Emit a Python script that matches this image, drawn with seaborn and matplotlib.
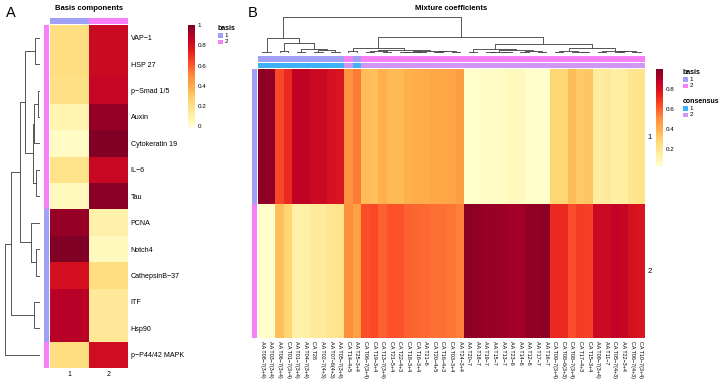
import numpy as np
import pandas as pd
import matplotlib
matplotlib.use("Agg")
import matplotlib.pyplot as plt
import seaborn as sns
from matplotlib.colors import ListedColormap
from matplotlib.patches import Rectangle

sns.set_theme(style="white")
plt.rcParams['font.family'] = ['Liberation Sans', 'DejaVu Sans']
plt.rcParams['text.color'] = 'black'
plt.rcParams['xtick.color'] = 'black'
plt.rcParams['ytick.color'] = 'black'

# ---------------- data: panel A (basis components) ----------------
markers = ["VAP−1", "HSP 27", "p−Smad 1/5", "Auxin", "Cytokeratin 19", "IL−6", "Tau",
           "PCNA", "Notch4", "CathepsinB−37", "ITF", "Hsp90", "p−P44/42 MAPK"]
basis_comp1 = [0.22, 0.22, 0.20, 0.08, 0.03, 0.19, 0.04, 0.95, 1.00, 0.80, 0.88, 0.88, 0.22]
basis_comp2 = [0.83, 0.83, 0.85, 0.95, 1.00, 0.84, 0.98, 0.10, 0.04, 0.22, 0.15, 0.15, 0.82]
marker_basis = [2, 2, 2, 2, 2, 2, 2, 1, 1, 1, 1, 1, 2]
# row dendrogram: (height, left, right), leaves = row index
tree_markers = (35, (29, (20, (15, (5.3, 0, 1), (7.5, (6, (2.5, 2, 3), 4), (4, 5, 6))),
                          (9.3, 7, (4.3, 8, 9))), (6, 10, 11)), 12)

# ---------------- data: panel B (mixture coefficients) ----------------
samples = ["AA T08−7(3+4)", "AA T03−7(3+4)", "AA T06−7(3+4)", "CA T01−7(3+4)", "AA T01−7(3+4)",
           "AA T04−7(3+4)", "CA T28", "AA T02−7(4+3)", "AA T07−6(4+3)", "AA T05−7(3+4)",
           "CA T14−4+5", "AA T25−3+4", "CA T06−7(3+4)", "CA T19−3+4", "CA T13−7(3+4)",
           "CA T21−5+4", "CA T22−4+3", "CA T18−3+4", "CA T16−3+4", "AA T21−6",
           "CA T20−4+5", "CA T16−4+3", "CA T03−3+4", "AA T24−3+4", "AA T20−7",
           "AA T18−7", "AA T19−7", "AA T15−7", "AA T13−7", "AA T23−6",
           "AA T14−6", "AA T12−6", "AA T17−7", "AA T16−7", "CA T09−7(3+4)",
           "CA T08−6(3+3)", "CA T08−7(3+4)", "CA T17−4+3", "CA T15−3+4", "AA T09−7(3+4)",
           "AA T11−7", "CA T05−7(4+3)", "AA T22−3+4", "CA T06−7(4+3)", "CA T10−7(3+4)"]
coef_row1 = [0.97, 0.96, 0.65, 0.72, 0.87, 0.87, 0.83, 0.83, 0.80, 0.79,
             0.49, 0.55, 0.36, 0.35, 0.40, 0.37, 0.37, 0.40, 0.41, 0.42,
             0.43, 0.43, 0.44, 0.46, 0.03, 0.04, 0.05, 0.05, 0.06, 0.07,
             0.07, 0.04, 0.04, 0.03, 0.28, 0.28, 0.36, 0.32, 0.33, 0.16,
             0.17, 0.14, 0.15, 0.20, 0.21]
coef_row2 = [0.03, 0.04, 0.35, 0.28, 0.13, 0.13, 0.17, 0.17, 0.20, 0.21,
             0.51, 0.45, 0.64, 0.65, 0.60, 0.63, 0.63, 0.60, 0.59, 0.58,
             0.57, 0.57, 0.56, 0.54, 0.97, 0.96, 0.95, 0.95, 0.94, 0.93,
             0.93, 0.96, 0.96, 0.97, 0.72, 0.72, 0.64, 0.68, 0.67, 0.84,
             0.83, 0.86, 0.85, 0.80, 0.79]
sample_basis = [1, 1, 1, 1, 1, 1, 1, 1, 1, 1, 2, 1] + [2] * 33
sample_consensus = [1, 1, 1, 1, 1, 1, 1, 1, 1, 1, 2, 1] + [2] * 33
coef_rows = ["1", "2"]
tree_samples = (1.0,
                (0.43, (0.03, 0, 1),
                 (0.28, (0.06, 2, 3), (0.12, (0.04, 4, 5), (0.07, (0.03, 6, 7), (0.04, 8, 9))))),
                (0.46,
                 (0.14, (0.05, 10, 11),
                  (0.08, (0.05, (0.03, 12, 13), (0.04, 14, 15)),
                   (0.06, (0.04, (0.02, 16, 17), (0.03, 18, 19)), (0.05, (0.02, 20, 21), (0.03, 22, 23))))),
                 (0.26,
                  (0.10, (0.04, 24, 25),
                   (0.07, (0.04, (0.02, 26, 27), (0.03, 28, 29)), (0.05, (0.02, 30, 31), (0.03, 32, 33)))),
                  (0.14, (0.05, (0.03, 34, 35), (0.04, 36, (0.02, 37, 38))),
                   (0.06, (0.03, 39, 40), (0.05, (0.02, 41, 42), (0.03, 43, 44)))))))

basis_colors = ["#A0A0F7", "#F780F7"]
consensus_colors = ["#3FB2F7", "#D195F5"]
dendro_color = "#3a3a3a"

W, H = 720, 381
fig = plt.figure(figsize=(W / 100, H / 100), dpi=100)
fig.patch.set_facecolor("white")


def ax_px(x0, y0, x1, y1):
    return fig.add_axes([x0 / W, 1 - y1 / H, (x1 - x0) / W, (y1 - y0) / H])


def draw_tree(ax, node, orient):
    if isinstance(node, int):
        return node + 0.5, 0.0
    h, left, right = node
    p1, h1 = draw_tree(ax, left, orient)
    p2, h2 = draw_tree(ax, right, orient)
    if orient == "top":
        ax.plot([p1, p1, p2, p2], [h1, h, h, h2], color=dendro_color, lw=0.6, solid_capstyle="butt")
    else:
        ax.plot([h1, h, h, h2], [p1, p1, p2, p2], color=dendro_color, lw=0.6, solid_capstyle="butt")
    return (p1 + p2) / 2, h


def annot_bar(ax, values, colors):
    sns.heatmap(np.array(values), ax=ax, cmap=ListedColormap(colors), vmin=0.5, vmax=2.5,
                cbar=False, xticklabels=False, yticklabels=False)
    ax.set_xlabel("")
    ax.set_ylabel("")


def legend_block(x, y, title, colors):
    fig.text(x / W, 1 - y / H, title, fontsize=5, fontweight="bold", va="top", ha="left")
    for i, c in enumerate(colors):
        yy = y + 8 + i * 6.5
        fig.patches.append(Rectangle((x / W, 1 - (yy + 4.5) / H), 5 / W, 4.5 / H,
                                     transform=fig.transFigure, facecolor=c, edgecolor="none"))
        fig.text((x + 6.5) / W, 1 - (yy + 2.3) / H, str(i + 1), fontsize=4.6, va="center", ha="left")


# ================= Panel A =================
fig.text(6 / W, 1 - 13 / H, "A", fontsize=10.5, va="center", ha="left")
fig.text(89 / W, 1 - 8.5 / H, "Basis components", fontsize=5.5, fontweight="bold", va="center", ha="center")

dfA = pd.DataFrame({"1": basis_comp1, "2": basis_comp2}, index=markers)
axA = ax_px(50, 24.5, 128, 368)
cbA = ax_px(188, 25, 194.5, 126.5)
sns.heatmap(dfA, ax=axA, cmap="YlOrRd", vmin=0, vmax=1, cbar_ax=cbA)
axA.yaxis.tick_right()
axA.set_yticks(np.arange(len(markers)) + 0.5)
axA.set_yticklabels(markers, rotation=0, fontsize=5.1)
axA.set_xticklabels(["1", "2"], fontsize=5)
axA.tick_params(length=0, pad=2)
cb = axA.collections[0].colorbar
cb.set_ticks([0, 0.2, 0.4, 0.6, 0.8, 1])
cb.set_ticklabels(["0", "0.2", "0.4", "0.6", "0.8", "1"])
cb.outline.set_visible(False)
cb.ax.tick_params(length=0, labelsize=4.5, pad=2)

annot_bar(ax_px(50, 18, 128, 23.5), [[1, 2]], basis_colors)
annot_bar(ax_px(43.5, 24.5, 49, 368), np.array(marker_basis).reshape(-1, 1), basis_colors)

dA = ax_px(4, 24.5, 40, 368)
draw_tree(dA, tree_markers, "left")
dA.set_ylim(len(markers), 0)
dA.set_xlim(36, 0)
dA.axis("off")

legend_block(218, 25, "basis", basis_colors)

# ================= Panel B =================
fig.text(248 / W, 1 - 13 / H, "B", fontsize=10.5, va="center", ha="left")
fig.text(451 / W, 1 - 8.5 / H, "Mixture coefficients", fontsize=5.5, fontweight="bold", va="center", ha="center")

dfB = pd.DataFrame([coef_row1, coef_row2], index=coef_rows, columns=samples)
axB = ax_px(258, 69, 645, 338)
cbB = ax_px(656, 69, 663, 166)
sns.heatmap(dfB, ax=axB, cmap="YlOrRd", vmin=0.03, vmax=1.0, cbar_ax=cbB)
axB.yaxis.tick_right()
axB.set_yticks([0.5, 1.5])
axB.set_yticklabels(coef_rows, rotation=0, fontsize=5.5)
axB.set_xticks(np.arange(len(samples)) + 0.5)
axB.set_xticklabels(samples, rotation=270, fontsize=3.9, ha="center", va="top")
axB.tick_params(length=0, pad=2)
axB.set_xlabel("")
cb2 = axB.collections[0].colorbar
cb2.set_ticks([0.2, 0.4, 0.6, 0.8])
cb2.set_ticklabels(["0.2", "0.4", "0.6", "0.8"])
cb2.outline.set_visible(False)
cb2.ax.tick_params(length=0, labelsize=4.5, pad=2)

annot_bar(ax_px(258, 56, 645, 61.5), [sample_basis], basis_colors)
annot_bar(ax_px(258, 62.5, 645, 68), [sample_consensus], consensus_colors)
annot_bar(ax_px(251.5, 69, 257, 338), [[1], [2]], basis_colors)

dB = ax_px(258, 15, 645, 53)
draw_tree(dB, tree_samples, "top")
dB.set_xlim(0, len(samples))
dB.set_ylim(0, 1.06)
dB.axis("off")

legend_block(683, 69, "basis", basis_colors)
legend_block(683, 98, "consensus", consensus_colors)

fig.savefig("out.png", dpi=100, facecolor="white")
